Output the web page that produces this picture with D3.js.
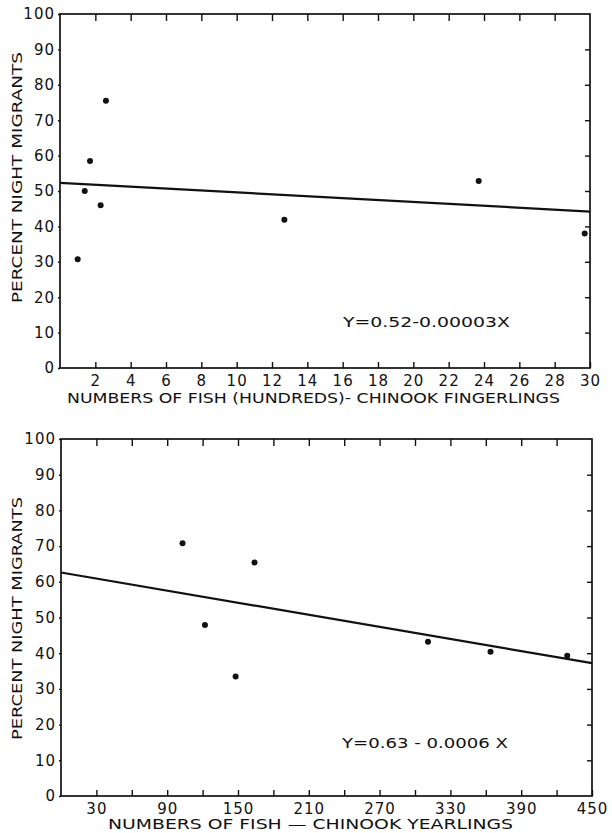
<!DOCTYPE html>
<html>
<head>
<meta charset="utf-8">
<script src="https://cdn.jsdelivr.net/npm/d3@7"></script>
<style>
  body { margin: 0; background: #fff; }
  svg text { font-family: "DejaVu Sans", sans-serif; fill: #111; }
</style>
</head>
<body>
<svg id="chart" width="612" height="833"></svg>
<script>
// chinook fingerlings (hundreds of fish) vs percent night migrants
const fingerX = [1.0, 1.4, 1.7, 2.3, 2.6, 12.7, 23.7, 29.7];
const fingerPct = [30.7, 50, 58.5, 46, 75.5, 41.9, 52.8, 38];
const fingerFitX = [0, 30];
const fingerFitY = [52.3, 44.2];

// chinook yearlings (numbers of fish)
const yearX = [103, 122, 148, 164, 311, 364, 429];
const yearPct = [70.8, 47.9, 33.5, 65.4, 43.2, 40.4, 39.3];
const yearFitX = [0, 450];
const yearFitY = [62.6, 37.2];

const pctTicks = d3.range(0, 101, 10);
const fingerTicks = d3.range(2, 31, 2);
const yearTicks = d3.range(30, 451, 30);
const yearLabels = d3.range(30, 451, 60);

const yTitle = 'PERCENT NIGHT MIGRANTS';

const svg = d3.select('#chart');

const drawPanel = (p) => {
  const x = d3.scaleLinear().domain(p.xDomain).range([p.left, p.right]);
  const y = d3.scaleLinear().domain([0, 100]).range([p.bottom, p.top]);
  const g = svg.append('g');

  // inward ticks on top / bottom / right
  g.append('g')
    .attr('transform', `translate(0,${p.bottom})`)
    .call(d3.axisBottom(x).tickValues(p.ticks).tickSize(-6).tickPadding(7)
      .tickFormat(d => p.labels.includes(d) ? d : ''))
    .call(a => a.select('.domain').remove())
    .call(a => a.selectAll('text').attr('font-size', 15).attr('letter-spacing', 1));

  g.append('g')
    .attr('transform', `translate(0,${p.top})`)
    .call(d3.axisTop(x).tickValues(p.ticks.filter(d => d < p.xDomain[1])).tickSize(-7).tickFormat(''))
    .call(a => a.select('.domain').remove());

  g.append('g')
    .attr('transform', `translate(${p.right},0)`)
    .call(d3.axisRight(y).tickValues(pctTicks.slice(1, -1)).tickSize(-5).tickFormat(''))
    .call(a => a.select('.domain').remove());

  g.append('g')
    .attr('transform', `translate(${p.left},0)`)
    .call(d3.axisLeft(y).tickValues(pctTicks).tickSize(2).tickPadding(3))
    .call(a => a.select('.domain').remove())
    .call(a => a.selectAll('text').attr('font-size', 15).attr('letter-spacing', 1));

  g.selectAll('.tick line').attr('stroke', '#111').attr('stroke-width', 1.4);

  // frame
  g.append('rect')
    .attr('x', p.left).attr('y', p.top)
    .attr('width', p.right - p.left).attr('height', p.bottom - p.top)
    .attr('fill', 'none').attr('stroke', '#111').attr('stroke-width', 1.7);

  // regression line
  g.append('path')
    .datum(d3.zip(p.fitX, p.fitY))
    .attr('d', d3.line().x(d => x(d[0])).y(d => y(d[1])))
    .attr('fill', 'none').attr('stroke', '#111').attr('stroke-width', 2.2);

  g.selectAll('circle.pt')
    .data(d3.zip(p.xs, p.ys))
    .join('circle')
    .attr('class', 'pt')
    .attr('cx', d => x(d[0])).attr('cy', d => y(d[1]))
    .attr('r', 3).attr('fill', '#111');

  g.append('text')
    .attr('x', p.eqX).attr('y', p.eqY)
    .attr('font-size', 14)
    .attr('textLength', p.eqLen).attr('lengthAdjust', 'spacingAndGlyphs')
    .text(p.equation);

  g.append('text')
    .attr('x', p.xTitleX).attr('y', p.xTitleY)
    .attr('font-size', 14)
    .attr('textLength', p.xTitleLen).attr('lengthAdjust', 'spacingAndGlyphs')
    .text(p.xTitle);

  g.append('text')
    .attr('transform', `translate(22,${p.yTitleStart}) rotate(-90)`)
    .attr('font-size', 14)
    .attr('textLength', p.yTitleLen).attr('lengthAdjust', 'spacingAndGlyphs')
    .text(yTitle);
};

drawPanel({
  left: 60, right: 590, top: 14, bottom: 368,
  xDomain: [0, 30], ticks: fingerTicks, labels: fingerTicks,
  xs: fingerX, ys: fingerPct, fitX: fingerFitX, fitY: fingerFitY,
  equation: 'Y=0.52-0.00003X', eqX: 343, eqY: 327, eqLen: 167,
  xTitle: 'NUMBERS OF FISH (HUNDREDS)- CHINOOK FINGERLINGS',
  xTitleX: 67, xTitleY: 403, xTitleLen: 493,
  yTitleStart: 303, yTitleLen: 251
});

drawPanel({
  left: 61, right: 592, top: 439, bottom: 796,
  xDomain: [0, 450], ticks: yearTicks, labels: yearLabels,
  xs: yearX, ys: yearPct, fitX: yearFitX, fitY: yearFitY,
  equation: 'Y=0.63 - 0.0006 X', eqX: 342, eqY: 748, eqLen: 166,
  xTitle: 'NUMBERS OF FISH — CHINOOK YEARLINGS',
  xTitleX: 108, xTitleY: 829, xTitleLen: 405,
  yTitleStart: 740, yTitleLen: 243
});
</script>
</body>
</html>
